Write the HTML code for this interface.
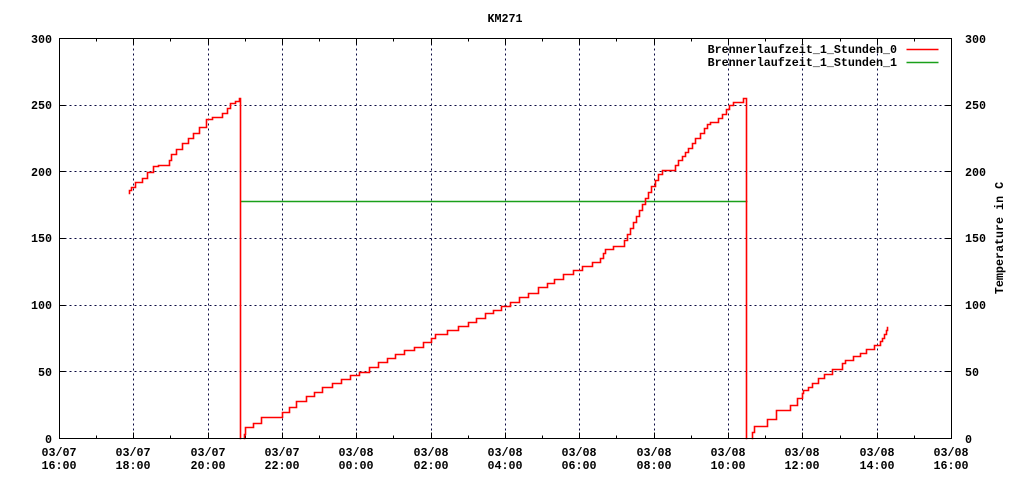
<!DOCTYPE html>
<html><head><meta charset="utf-8"><style>
html,body{margin:0;padding:0;background:#fff;}
svg{display:block;}
text{font-family:"Liberation Mono","DejaVu Sans Mono",monospace;font-weight:bold;font-size:11.7px;fill:#000;}
</style></head><body>
<svg width="1024" height="480" viewBox="0 0 1024 480" xmlns="http://www.w3.org/2000/svg">
<rect width="1024" height="480" fill="#fff"/>
<g transform="translate(0.5,0.5)" shape-rendering="crispEdges">
<!-- grid -->
<g stroke="#0a0a40" stroke-width="1" stroke-dasharray="2,3" fill="none">
<line x1="59" y1="105" x2="951" y2="105"/>
<line x1="59" y1="171" x2="951" y2="171"/>
<line x1="59" y1="238" x2="951" y2="238"/>
<line x1="59" y1="305" x2="951" y2="305"/>
<line x1="59" y1="371" x2="951" y2="371"/>
<line x1="133" y1="38" x2="133" y2="438"/>
<line x1="208" y1="38" x2="208" y2="438"/>
<line x1="282" y1="38" x2="282" y2="438"/>
<line x1="356" y1="38" x2="356" y2="438"/>
<line x1="431" y1="38" x2="431" y2="438"/>
<line x1="505" y1="38" x2="505" y2="438"/>
<line x1="579" y1="38" x2="579" y2="438"/>
<line x1="654" y1="38" x2="654" y2="438"/>
<line x1="728" y1="38" x2="728" y2="438"/>
<line x1="802" y1="38" x2="802" y2="438"/>
<line x1="877" y1="38" x2="877" y2="438"/>
</g>
<!-- ticks -->
<g stroke="#000" stroke-width="1">
<path d="M59 105h6M59 171h6M59 238h6M59 305h6M59 371h6M951 105h-6M951 171h-6M951 238h-6M951 305h-6M951 371h-6"/>
<path d="M96 438v-3M170 438v-3M245 438v-3M319 438v-3M393 438v-3M468 438v-3M542 438v-3M616 438v-3M691 438v-3M765 438v-3M840 438v-3M914 438v-3"/>
<path d="M96 38v3M170 38v3M245 38v3M319 38v3M393 38v3M468 38v3M542 38v3M616 38v3M691 38v3M765 38v3M840 38v3M914 38v3"/>
<path d="M133 438v-6M208 438v-6M282 438v-6M356 438v-6M431 438v-6M505 438v-6M579 438v-6M654 438v-6M728 438v-6M802 438v-6M877 438v-6"/>
<path d="M133 38v6M208 38v6M282 38v6M356 38v6M431 38v6M505 38v6M579 38v6M654 38v6M728 38v6M802 38v6M877 38v6"/>
</g>
</g>
<g transform="translate(0.5,0.5)">
<!-- series 1 (green) -->
<path d="M240 201H747" stroke="#1aa01a" stroke-width="1.4" fill="none"/>
<!-- series 0 (red) -->
<g stroke="#ff0000" stroke-width="1.6" fill="none" stroke-linejoin="miter" stroke-linecap="square">
<path d="M129 193V190H131V187H135V182H142V178H147V172H153V166H158V165H169V160H171V154H176V149H182V143H188V138H193V133H199V127H206V119H212V117H222V113H227V108H230V103H235V101H239V98H240V438"/>
<path d="M244 438V434H245V427H253V423H261V417H269H282V412H289V407H296V401H306V396H314V392H322V387H332V383H341V379H350V375H359V372H369V367H378V362H387V358H395V354H404V350H414V347H423V342H431V338H435V334H447V330H458V326H468V322H476V318H485V313H493V310H501V306H510V302H519V297H528V293H538V287H547V283H554V279H563V274H573V270H582V266H592V262H600V258H603V253H605V249H613V246H624V240H627V234H630V228H633V222H636V216H639V210H642V204H645V198H648V192H651V186H655V180H658V174H662V170H675V165H678V160H682V156H685V152H688V148H692V143H695V138H700V133H704V128H707V124H710V122H718V118H722V114H726V109H729V105H733V102H743V98H746V438"/>
<path d="M752 438V432H754V426H760H767V419H776V410H790V405H797V398H802V393H803V390H808V387H812V383H818V378H824V374H832V369H842V363H845V360H853V356H860V353H866V349H874V345H880V341H882V338H884V334H886V330H887V327"/>
</g>
<!-- legend lines -->
<path d="M906 49H938" stroke="#ff0000" stroke-width="1.6" fill="none"/>
<path d="M906 62H938" stroke="#1aa01a" stroke-width="1.4" fill="none"/>
</g>
<g transform="translate(0.5,0.5)" shape-rendering="crispEdges">
<!-- border -->
<rect x="59" y="38" width="892" height="400" fill="none" stroke="#000" stroke-width="1"/>
</g>
<!-- text -->
<text x="505" y="22" text-anchor="middle">KM271</text>
<text x="897" y="53" text-anchor="end">Brennerlaufzeit_1_Stunden_0</text>
<text x="897" y="66" text-anchor="end">Brennerlaufzeit_1_Stunden_1</text>
<g text-anchor="end">
<text x="52" y="43">300</text>
<text x="52" y="109">250</text>
<text x="52" y="176">200</text>
<text x="52" y="242">150</text>
<text x="52" y="309">100</text>
<text x="52" y="376">50</text>
<text x="52" y="443">0</text>
</g>
<g text-anchor="start">
<text x="965" y="43">300</text>
<text x="965" y="109">250</text>
<text x="965" y="176">200</text>
<text x="965" y="242">150</text>
<text x="965" y="309">100</text>
<text x="965" y="376">50</text>
<text x="965" y="443">0</text>
</g>
<text transform="translate(1003,238) rotate(-90)" text-anchor="middle">Temperature in C</text>
<g text-anchor="middle">
<text x="59" y="456">03/07</text><text x="59" y="469">16:00</text>
<text x="133" y="456">03/07</text><text x="133" y="469">18:00</text>
<text x="208" y="456">03/07</text><text x="208" y="469">20:00</text>
<text x="282" y="456">03/07</text><text x="282" y="469">22:00</text>
<text x="356" y="456">03/08</text><text x="356" y="469">00:00</text>
<text x="431" y="456">03/08</text><text x="431" y="469">02:00</text>
<text x="505" y="456">03/08</text><text x="505" y="469">04:00</text>
<text x="579" y="456">03/08</text><text x="579" y="469">06:00</text>
<text x="654" y="456">03/08</text><text x="654" y="469">08:00</text>
<text x="728" y="456">03/08</text><text x="728" y="469">10:00</text>
<text x="802" y="456">03/08</text><text x="802" y="469">12:00</text>
<text x="877" y="456">03/08</text><text x="877" y="469">14:00</text>
<text x="951" y="456">03/08</text><text x="951" y="469">16:00</text>
</g>
</svg>
</body></html>
